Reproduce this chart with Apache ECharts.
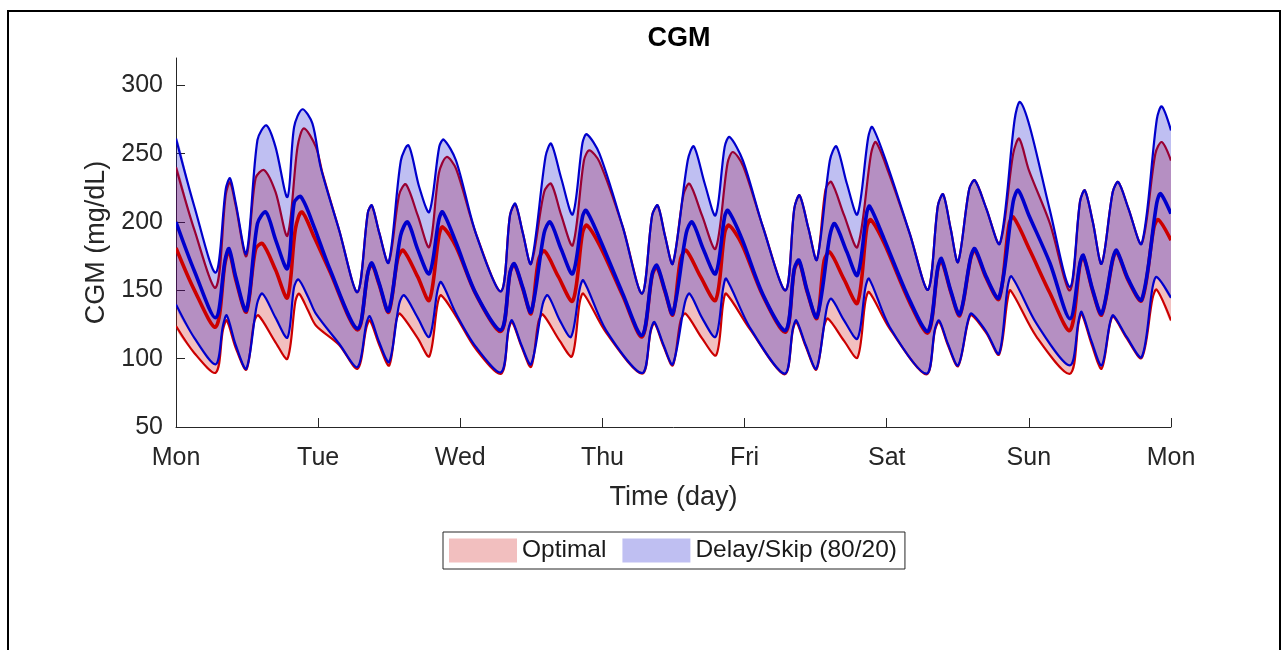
<!DOCTYPE html>
<html>
<head>
<meta charset="utf-8">
<title>CGM</title>
<script src="https://cdn.jsdelivr.net/npm/echarts@6/dist/echarts.min.js"></script>
<style>
  html, body { margin: 0; padding: 0; background: #fff; }
  #chart { width: 1283px; height: 650px; }
</style>
</head>
<body>
<div id="chart"></div>
<script>
// 横轴刻度（天）
var dayLabels = ['Mon', 'Tue', 'Wed', 'Thu', 'Fri', 'Sat', 'Sun', 'Mon'];
var dayTicks = [0, 1, 2, 3, 4, 5, 6, 7];
var yTicks = [50, 100, 150, 200, 250, 300];

// Optimal 带：上沿 / 中位 / 下沿  [day, mg/dL]
var redUpper = [[0,240],[0.13,194],[0.28,152],[0.35,220],[0.38,229],[0.42,212],[0.495,175],[0.56,232],[0.62,238],[0.70,222],[0.784,190],[0.855,255],[0.90,268.5],[0.984,255],[1.03,236],[1.148,194],[1.277,148.7],
  [1.35,207],[1.378,212],[1.43,192],[1.496,170.3],[1.57,220],[1.617,227.6],[1.70,205],[1.782,181.7],[1.85,236],[1.904,247.6],[1.97,239],[2.11,191.5],[2.287,149.3],
  [2.35,205],[2.387,213],[2.44,192],[2.498,169.5],[2.59,222],[2.639,228],[2.71,205],[2.791,183],[2.87,245],[2.908,252.4],[2.979,244],[3.143,196.4],[3.279,147.6],
  [3.35,205],[3.389,212],[3.44,190],[3.495,169.5],[3.57,220],[3.613,228],[3.70,205],[3.796,180.5],[3.88,243],[3.918,251.2],[3.99,241],[4.129,196.4],[4.289,150],
  [4.35,210],[4.387,219.5],[4.45,195],[4.509,172.4],[4.57,224],[4.61,229.3],[4.70,205],[4.794,181.7],[4.89,250],[4.923,258.5],[5.01,237],[5.162,191.5],[5.291,150.5],
  [5.36,212],[5.397,220.3],[5.45,195],[5.502,170.7],[5.58,224],[5.62,230.5],[5.70,210],[5.796,184.2],[5.89,250],[5.932,261],[6.0,238],[6.148,199],[6.289,150],
  [6.36,215],[6.394,223.2],[6.45,200],[6.512,169.5],[6.59,222],[6.629,229.3],[6.70,210],[6.794,184.2],[6.89,250],[6.935,258.5],[7,245]];
var redMedian = [[0,181],[0.13,150],[0.28,123.2],[0.345,170],[0.373,178.8],[0.42,158],[0.495,134.2],[0.56,180],[0.608,184.2],[0.70,165],[0.784,144.6],[0.84,195],[0.885,207.3],[0.972,189],[1.077,165],[1.277,121],
  [1.35,163],[1.378,169],[1.43,154],[1.496,134],[1.56,173],[1.599,179.3],[1.70,160],[1.782,142.7],[1.85,190],[1.876,196.4],[1.97,182],[2.11,147],[2.287,120],
  [2.35,163],[2.38,169],[2.44,151],[2.498,133],[2.55,172],[2.592,178.8],[2.69,160],[2.791,142.2],[2.86,192],[2.89,197.6],[2.98,183],[3.143,146],[3.279,116],
  [3.35,161],[3.383,167],[3.44,149],[3.495,132],[3.55,173],[3.589,179.3],[3.69,160],[3.796,142.7],[3.86,192],[3.89,197.6],[3.98,184],[4.129,146],[4.289,119.5],
  [4.35,165],[4.383,171],[4.44,149],[4.509,129.5],[4.56,172],[4.599,178],[4.70,158],[4.794,140.7],[4.86,196],[4.887,201.7],[4.98,185],[5.162,141],[5.291,119],
  [5.36,166],[5.385,172],[5.45,149],[5.514,131.5],[5.59,173],[5.62,179.5],[5.70,159],[5.79,143.6],[5.86,198],[5.89,203.7],[6.007,179.3],[6.148,148],[6.289,120.7],
  [6.36,169],[6.383,175],[6.45,149],[6.512,132],[6.59,172],[6.617,178.5],[6.70,157],[6.794,142.5],[6.88,196],[6.911,201.7],[7,186.6]];
var redLower = [[0,123.9],[0.13,104],[0.28,89.8],[0.33,121],[0.357,128],[0.42,108],[0.495,92],[0.55,127],[0.58,131.7],[0.70,112],[0.784,100],[0.84,142],[0.866,147.5],[0.93,135],[0.984,124.3],[1.148,110],[1.277,92.6],
  [1.34,123],[1.364,128],[1.43,110],[1.5,95],[1.55,128],[1.575,133],[1.70,115],[1.782,101.7],[1.84,140],[1.865,146.4],[1.97,131],[2.11,107],[2.287,89],
  [2.34,121],[2.364,127],[2.43,109],[2.498,94],[2.55,127],[2.58,132.4],[2.70,113],[2.786,101.7],[2.84,141],[2.866,147.6],[3.026,119],[3.279,89],
  [3.34,120],[3.366,126],[3.43,109],[3.495,95],[3.55,128],[3.585,133],[3.70,115],[3.8,102.5],[3.85,141],[3.871,147.6],[4.035,122],[4.282,88.5],
  [4.34,121],[4.364,127],[4.43,109],[4.505,92],[4.56,124],[4.587,129.3],[4.70,113],[4.794,100.7],[4.85,142],[4.876,148.8],[5.021,122],[5.279,88.5],
  [5.34,121],[5.369,127],[5.43,110],[5.502,94.5],[5.57,126],[5.596,132],[5.702,118.5],[5.79,103],[5.85,143],[5.871,150],[6.054,116],[6.289,89],
  [6.35,126],[6.371,133],[6.44,111],[6.512,92.7],[6.57,125],[6.594,131],[6.688,115],[6.794,100.5],[6.87,144],[6.899,150.5],[7,128]];

// Delay/Skip (80/20) 带
var blueUpper = [[0,261],[0.13,211],[0.28,163],[0.35,224],[0.38,232],[0.42,214],[0.495,177],[0.573,260],[0.636,270.7],[0.70,255],[0.784,218.3],[0.831,269.5],[0.889,282.5],[0.96,272],[1.018,240],[1.148,194],[1.277,148.7],
  [1.35,207],[1.378,212.2],[1.43,192],[1.496,170.3],[1.582,245],[1.636,256.1],[1.711,225.6],[1.782,207.3],[1.852,255],[1.883,260.3],[1.97,245],[2.11,191.5],[2.287,149.3],
  [2.35,205],[2.387,213.4],[2.44,192],[2.498,169.5],[2.60,248],[2.639,257.3],[2.71,232],[2.791,205.6],[2.86,258],[2.89,264.2],[2.979,250],[3.143,196.4],[3.279,147.6],
  [3.35,205],[3.389,212.2],[3.44,190],[3.495,169.5],[3.60,245],[3.643,255.4],[3.72,228],[3.796,204.9],[3.86,255],[3.894,262.2],[3.988,245],[4.129,196.4],[4.289,150],
  [4.35,210],[4.387,219.5],[4.45,195],[4.509,172.4],[4.60,245],[4.646,255.4],[4.72,228],[4.794,205.6],[4.87,262],[4.899,269.5],[5.01,240],[5.162,191.5],[5.291,150.5],
  [5.36,212],[5.397,220.3],[5.45,195],[5.502,170.7],[5.58,224],[5.62,230.5],[5.70,210],[5.796,184.2],[5.90,275],[5.937,287.8],[6.007,269.5],[6.148,208.5],[6.289,152.4],
  [6.36,215],[6.394,223.2],[6.45,200],[6.512,169.5],[6.59,222],[6.629,229.3],[6.70,210],[6.794,184.2],[6.90,275],[6.935,284.6],[7,267]];
var blueMedian = [[0,200],[0.13,164],[0.28,130],[0.345,172],[0.373,180.5],[0.42,160],[0.495,135.4],[0.573,198.8],[0.632,207.3],[0.702,186.6],[0.784,166],[0.831,214],[0.878,218.5],[0.972,196.3],[1.077,167],[1.277,122],
  [1.35,163],[1.378,170],[1.43,155],[1.496,135],[1.58,190],[1.629,200],[1.70,180],[1.782,162.2],[1.85,202],[1.876,207.3],[1.97,185],[2.11,147.6],[2.287,121],
  [2.35,163],[2.38,169.5],[2.44,152],[2.498,134.2],[2.59,192],[2.632,200],[2.71,180],[2.791,162.2],[2.86,204],[2.885,208.5],[2.98,188],[3.143,147.6],[3.279,117.1],
  [3.35,162],[3.383,168.3],[3.44,150],[3.495,133],[3.59,192],[3.631,200],[3.71,180],[3.796,162.2],[3.86,204],[3.883,208.5],[3.98,188],[4.129,147],[4.289,120.7],
  [4.35,166],[4.383,172],[4.44,150],[4.509,130.5],[4.60,190],[4.634,198.8],[4.72,178],[4.794,161],[4.86,207],[4.88,211.5],[4.98,188],[5.162,142.7],[5.291,120.2],
  [5.36,167],[5.385,173.2],[5.45,150],[5.514,132.4],[5.59,174],[5.62,180.5],[5.70,160],[5.79,144.6],[5.89,215],[5.925,223.2],[6.0,205],[6.148,170],[6.289,129.3],
  [6.36,170],[6.383,175.6],[6.45,150],[6.512,133],[6.59,173],[6.617,179.3],[6.70,158],[6.794,143.2],[6.90,214],[6.927,220.7],[7,206.1]];
var blueLower = [[0,139.7],[0.13,115],[0.28,95.9],[0.33,124],[0.357,131.7],[0.42,110],[0.495,92.7],[0.57,140],[0.608,147.6],[0.70,130],[0.784,115.4],[0.83,152],[0.861,158],[0.93,145],[0.984,132.9],[1.148,110.9],[1.277,93.9],
  [1.34,126],[1.364,131],[1.43,112],[1.5,97.6],[1.57,140],[1.605,146.4],[1.70,130],[1.782,115.9],[1.84,150],[1.865,156.1],[1.97,133],[2.11,108.6],[2.287,90],
  [2.34,122],[2.364,128],[2.43,110],[2.498,95.9],[2.58,140],[2.615,146.4],[2.70,128],[2.779,115.9],[2.84,151],[2.866,157.3],[3.026,120.7],[3.279,89.5],
  [3.34,121],[3.366,126.8],[3.43,110],[3.495,95.9],[3.58,141],[3.613,147.6],[3.70,130],[3.796,115.9],[3.85,152],[3.871,158.5],[4.035,123.2],[4.282,89],
  [4.34,122],[4.364,128],[4.43,110],[4.505,92.7],[4.58,138],[4.61,143.9],[4.70,128],[4.794,114.6],[4.85,152],[4.876,158.5],[5.021,123.2],[5.279,89],
  [5.34,122],[5.369,128],[5.43,111],[5.502,95.1],[5.57,127],[5.596,133],[5.702,119.5],[5.79,103.7],[5.85,152],[5.878,160.2],[6.054,125.6],[6.289,95.1],
  [6.35,128],[6.371,134.2],[6.44,113],[6.512,95.1],[6.57,126],[6.594,131.7],[6.688,115.9],[6.794,101.2],[6.87,152],[6.899,159.8],[7,144.6]];

var RED = '#cc0000', BLUE = '#0000cc';
var RED_FILL = 'rgba(204,0,0,0.25)', BLUE_FILL = 'rgba(0,0,204,0.25)';
var SMOOTH = 0.3;
var FONT = '"Liberation Sans", Arial, Helvetica, sans-serif';

function toPts(api, arr) {
  return arr.map(function (p) { return api.coord(p); });
}

// 带状填充 + 上下沿
function bandSeries(name, upper, lower, fill, stroke, z) {
  return {
    name: name,
    type: 'custom',
    z: z,
    clip: true,
    silent: true,
    itemStyle: { color: fill },
    data: [[0, 50]],
    renderItem: function (params, api) {
      var up = toPts(api, upper);
      var lo = toPts(api, lower);
      return {
        type: 'group',
        children: [
          { type: 'polygon', shape: { points: up.concat(lo.slice().reverse()), smooth: SMOOTH }, style: { fill: fill, stroke: null } },
          { type: 'polyline', shape: { points: up, smooth: SMOOTH }, style: { fill: null, stroke: stroke, lineWidth: 2.2 } },
          { type: 'polyline', shape: { points: lo, smooth: SMOOTH }, style: { fill: null, stroke: stroke, lineWidth: 2.2 } }
        ]
      };
    }
  };
}

// 中位线
function medianSeries(line, stroke, z) {
  return {
    type: 'custom',
    z: z,
    clip: true,
    silent: true,
    data: [[0, 50]],
    renderItem: function (params, api) {
      return { type: 'polyline', shape: { points: toPts(api, line), smooth: SMOOTH }, style: { fill: null, stroke: stroke, lineWidth: 3.6 } };
    }
  };
}

var chart = echarts.init(document.getElementById('chart'));
var option = {
  animation: false,
  backgroundColor: '#fff',
  textStyle: { fontFamily: FONT },
  title: {
    text: 'CGM',
    left: 674,
    top: 20,
    textAlign: 'center',
    textStyle: { fontFamily: FONT, fontSize: 27, fontWeight: 'bold', color: '#000' }
  },
  graphic: [{
    type: 'rect',
    shape: { x: 8, y: 11, width: 1272, height: 700 },
    style: { fill: null, stroke: '#000', lineWidth: 2 },
    silent: true
  }],
  legend: {
    left: 443,
    top: 532,
    padding: [6, 8, 6, 6],
    itemWidth: 68,
    itemHeight: 24,
    itemGap: 16,
    borderColor: '#262626',
    borderWidth: 1,
    selectedMode: false,
    textStyle: { fontFamily: FONT, fontSize: 24.5, color: '#1a1a1a', padding: [4, 0, 0, 0] },
    data: [
      { name: 'Optimal', icon: 'rect', itemStyle: { color: RED_FILL } },
      { name: 'Delay/Skip (80/20)', icon: 'rect', itemStyle: { color: BLUE_FILL } }
    ]
  },
  grid: { left: 176, right: 112, top: 58, bottom: 223 },
  xAxis: {
    type: 'value',
    min: 0,
    max: 7,
    interval: 1,
    name: 'Time (day)',
    nameLocation: 'middle',
    nameGap: 57,
    nameTextStyle: { fontFamily: FONT, fontSize: 27, color: '#262626' },
    axisLine: { onZero: false, lineStyle: { color: '#262626', width: 1 } },
    axisTick: { inside: true, length: 9, customValues: dayTicks, lineStyle: { color: '#262626' } },
    axisLabel: {
      customValues: dayTicks,
      margin: 19,
      fontSize: 25,
      color: '#262626',
      formatter: function (v) { return dayLabels[Math.round(v)]; }
    },
    splitLine: { show: false }
  },
  yAxis: {
    type: 'value',
    min: 50,
    max: 320,
    interval: 50,
    name: 'CGM (mg/dL)',
    nameLocation: 'middle',
    nameGap: 62,
    nameTextStyle: { fontFamily: FONT, fontSize: 27, color: '#262626' },
    axisLine: { show: true, onZero: false, lineStyle: { color: '#262626', width: 1 } },
    axisTick: { show: true, inside: true, length: 9, customValues: yTicks, lineStyle: { color: '#262626' } },
    axisLabel: { customValues: yTicks, margin: 13, fontSize: 25, color: '#262626' },
    splitLine: { show: false }
  },
  series: [
    bandSeries('Optimal', redUpper, redLower, RED_FILL, RED, 2),
    bandSeries('Delay/Skip (80/20)', blueUpper, blueLower, BLUE_FILL, BLUE, 3),
    medianSeries(redMedian, RED, 4),
    medianSeries(blueMedian, BLUE, 5)
  ]
};
chart.setOption(option);
</script>
</body>
</html>
